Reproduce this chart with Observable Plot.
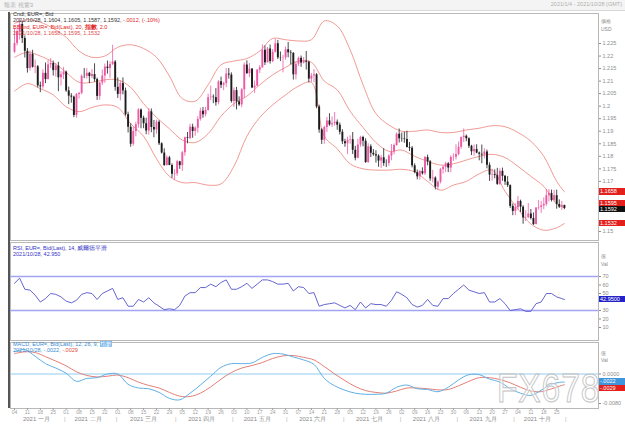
<!DOCTYPE html>
<html><head><meta charset="utf-8">
<script src="https://cdn.jsdelivr.net/npm/d3@7"></script>
<script src="https://cdn.jsdelivr.net/npm/@observablehq/plot@0.6"></script>
<style>
body{margin:0;background:#fff;}
#wrap{position:relative;width:625px;height:432px;overflow:hidden;font-family:"Liberation Sans",Arial,sans-serif;background:#fff;}
#wrap svg{position:absolute;left:0;}
.t{position:absolute;white-space:nowrap;line-height:1;font-size:5.5px;}
.box{position:absolute;left:599px;width:26px;height:6.5px;line-height:6.5px;font-size:5.5px;color:#fff;padding-left:1px;box-sizing:border-box;}
</style></head>
<body><div id="wrap"></div>
<script>
// ---------- DATA (EUR= daily, 2021/01/04 - 2021/10/28) ----------
const open = [
1.2215,1.2250,1.2297,1.2326,1.2270,1.2219,1.2150,1.2207,1.2155,1.2157,1.2081,1.2077,1.2131,1.2106,1.2165,1.2170,1.2142,1.2160,1.2113,1.2125,
1.2136,1.2061,1.2040,1.2036,1.1963,1.2047,1.2051,1.2119,1.2119,1.2131,1.2118,1.2126,1.2106,1.2039,1.2092,1.2120,1.2156,1.2150,1.2166,1.2176,
1.2075,1.2047,1.2090,1.2061,1.1966,1.1916,1.1848,1.1899,1.1926,1.1985,1.1952,1.1930,1.1901,1.1977,1.1915,1.1905,1.1936,1.1850,1.1813,1.1763,1.1794,1.1763,1.1728,
1.1730,1.1778,1.1763,1.1814,1.1874,1.1871,1.1916,1.1899,1.1912,1.1947,1.1980,1.1966,1.1983,1.2034,1.2036,1.2034,1.2014,1.2097,1.2083,1.2090,1.2128,1.2124,
1.2019,1.2062,1.2017,1.2005,1.2065,1.2164,1.2130,1.2148,1.2072,1.2080,1.2144,1.2153,1.2223,1.2173,1.2228,1.2178,1.2215,1.2249,1.2193,1.2192,1.2193,
1.2225,1.2213,1.2211,1.2125,1.2167,1.2191,1.2172,1.2179,1.2175,1.2108,1.2120,1.2125,1.1997,1.1905,1.1864,1.1915,1.1941,1.1925,1.1930,1.1936,1.1924,1.1896,
1.1858,1.1850,1.1864,1.1866,1.1824,1.1792,1.1845,1.1875,1.1860,1.1775,1.1838,1.1812,1.1806,1.1801,1.1781,1.1794,1.1771,1.1771,1.1801,1.1817,1.1843,1.1888,
1.1870,1.1869,1.1867,1.1835,1.1832,1.1762,1.1735,1.1718,1.1739,1.1730,1.1795,1.1778,1.1710,1.1713,1.1677,1.1697,1.1747,1.1756,1.1770,1.1753,1.1795,1.1796,
1.1807,1.1836,1.1875,1.1880,1.1870,1.1840,1.1818,1.1827,1.1813,1.1808,1.1805,1.1817,1.1764,1.1725,1.1727,1.1723,1.1688,1.1740,1.1720,1.1697,1.1683,1.1600,
1.1580,1.1595,1.1620,1.1597,1.1554,1.1555,1.1570,1.1552,1.1528,1.1594,1.1596,1.1602,1.1608,1.1643,1.1652,1.1624,1.1643,1.1608,1.1597,1.1604];
const high = [
1.2310,1.2305,1.2349,1.2338,1.2280,1.2230,1.2220,1.2223,1.2184,1.2162,1.2096,1.2145,1.2172,1.2182,1.2190,1.2180,1.2170,1.2175,1.2138,1.2155,
1.2140,1.2076,1.2050,1.2040,1.2050,1.2055,1.2125,1.2150,1.2150,1.2135,1.2146,1.2169,1.2112,1.2095,1.2144,1.2168,1.2180,1.2177,1.2243,1.2182,
1.2113,1.2100,1.2113,1.2072,1.1976,1.1930,1.1915,1.1936,1.1990,1.1989,1.1960,1.1952,1.1990,1.1989,1.1943,1.1944,1.1942,1.1854,1.1830,1.1802,1.1800,1.1770,1.1747,
1.1784,1.1780,1.1819,1.1877,1.1895,1.1928,1.1928,1.1918,1.1958,1.1992,1.1995,1.1995,1.2048,1.2080,1.2045,1.2070,1.2102,1.2116,1.2096,1.2150,1.2150,1.2133,
1.2073,1.2075,1.2037,1.2071,1.2172,1.2181,1.2170,1.2149,1.2100,1.2146,1.2162,1.2245,1.2240,1.2234,1.2244,1.2226,1.2266,1.2262,1.2216,1.2203,1.2236,
1.2254,1.2222,1.2213,1.2176,1.2196,1.2200,1.2194,1.2218,1.2180,1.2130,1.2146,1.2130,1.2004,1.1910,1.1920,1.1955,1.1970,1.1957,1.1975,1.1945,1.1933,1.1906,
1.1868,1.1876,1.1882,1.1895,1.1840,1.1868,1.1880,1.1880,1.1870,1.1850,1.1846,1.1827,1.1822,1.1806,1.1804,1.1830,1.1786,1.1806,1.1847,1.1849,1.1893,1.1909,
1.1893,1.1896,1.1900,1.1855,1.1839,1.1770,1.1745,1.1744,1.1754,1.1800,1.1805,1.1783,1.1744,1.1718,1.1702,1.1752,1.1763,1.1776,1.1775,1.1802,1.1810,1.1846,
1.1857,1.1877,1.1909,1.1885,1.1874,1.1844,1.1845,1.1846,1.1817,1.1845,1.1830,1.1825,1.1774,1.1748,1.1746,1.1752,1.1750,1.1753,1.1723,1.1719,1.1686,1.1610,
1.1610,1.1640,1.1625,1.1603,1.1583,1.1612,1.1588,1.1574,1.1595,1.1624,1.1620,1.1634,1.1668,1.1667,1.1665,1.1664,1.1665,1.1626,1.1620,1.1605];
const low = [
1.2210,1.2240,1.2264,1.2250,1.2192,1.2132,1.2140,1.2152,1.2130,1.2073,1.2054,1.2068,1.2090,1.2105,1.2150,1.2120,1.2116,1.2058,1.2080,1.2106,
1.2055,1.2006,1.2012,1.1954,1.1952,1.2028,1.2045,1.2110,1.2108,1.2090,1.2110,1.2096,1.2023,1.2024,1.2082,1.2091,1.2128,1.2111,1.2162,1.2060,
1.2031,1.2021,1.2045,1.1960,1.1893,1.1836,1.1840,1.1878,1.1912,1.1910,1.1910,1.1886,1.1884,1.1894,1.1874,1.1888,1.1843,1.1809,1.1760,1.1762,1.1763,1.1712,1.1704,
1.1720,1.1748,1.1740,1.1800,1.1850,1.1866,1.1872,1.1880,1.1892,1.1940,1.1952,1.1957,1.1980,1.2022,1.2010,1.2000,1.2005,1.2070,1.2062,1.2074,1.2108,1.2012,
1.1995,1.1985,1.1999,1.1994,1.2030,1.2126,1.2114,1.2070,1.2051,1.2078,1.2130,1.2151,1.2162,1.2172,1.2168,1.2173,1.2212,1.2186,1.2178,1.2133,1.2183,
1.2193,1.2165,1.2104,1.2105,1.2158,1.2155,1.2168,1.2144,1.2093,1.2095,1.2093,1.1990,1.1892,1.1847,1.1848,1.1895,1.1920,1.1915,1.1920,1.1904,1.1885,1.1847,
1.1836,1.1807,1.1848,1.1807,1.1782,1.1790,1.1836,1.1838,1.1772,1.1772,1.1795,1.1800,1.1773,1.1756,1.1752,1.1760,1.1755,1.1760,1.1782,1.1806,1.1840,1.1853,
1.1856,1.1852,1.1833,1.1819,1.1754,1.1730,1.1706,1.1705,1.1725,1.1723,1.1762,1.1700,1.1694,1.1666,1.1664,1.1690,1.1729,1.1735,1.1735,1.1734,1.1780,1.1785,
1.1802,1.1828,1.1855,1.1858,1.1831,1.1803,1.1800,1.1810,1.1782,1.1770,1.1790,1.1750,1.1700,1.1701,1.1710,1.1684,1.1684,1.1700,1.1684,1.1676,1.1592,1.1563,
1.1563,1.1585,1.1576,1.1529,1.1540,1.1551,1.1546,1.1524,1.1526,1.1585,1.1572,1.1587,1.1600,1.1618,1.1618,1.1619,1.1589,1.1592,1.1584,1.1587];
const close = [
1.2250,1.2297,1.2326,1.2270,1.2219,1.2150,1.2207,1.2155,1.2157,1.2081,1.2077,1.2131,1.2106,1.2165,1.2170,1.2142,1.2160,1.2113,1.2125,1.2136,
1.2061,1.2040,1.2036,1.1963,1.2047,1.2051,1.2119,1.2119,1.2131,1.2118,1.2126,1.2106,1.2039,1.2092,1.2120,1.2156,1.2150,1.2166,1.2176,1.2075,
1.2047,1.2090,1.2061,1.1966,1.1916,1.1848,1.1899,1.1926,1.1985,1.1952,1.1930,1.1901,1.1977,1.1915,1.1905,1.1936,1.1850,1.1813,1.1763,1.1794,1.1763,1.1728,1.1730,
1.1778,1.1763,1.1814,1.1874,1.1871,1.1916,1.1899,1.1912,1.1947,1.1980,1.1966,1.1983,1.2034,1.2036,1.2034,1.2014,1.2097,1.2083,1.2090,1.2128,1.2124,1.2019,
1.2062,1.2017,1.2005,1.2065,1.2164,1.2130,1.2148,1.2072,1.2080,1.2144,1.2153,1.2223,1.2173,1.2228,1.2178,1.2215,1.2249,1.2193,1.2192,1.2193,1.2225,
1.2213,1.2211,1.2125,1.2167,1.2191,1.2172,1.2179,1.2175,1.2108,1.2120,1.2125,1.1997,1.1905,1.1864,1.1915,1.1941,1.1925,1.1930,1.1936,1.1924,1.1896,1.1858,
1.1850,1.1864,1.1866,1.1824,1.1792,1.1845,1.1875,1.1860,1.1775,1.1838,1.1812,1.1806,1.1801,1.1781,1.1794,1.1771,1.1771,1.1801,1.1817,1.1843,1.1888,1.1870,
1.1869,1.1867,1.1835,1.1832,1.1762,1.1735,1.1718,1.1739,1.1730,1.1795,1.1778,1.1710,1.1713,1.1677,1.1697,1.1747,1.1756,1.1770,1.1753,1.1795,1.1796,1.1807,
1.1836,1.1875,1.1880,1.1870,1.1840,1.1818,1.1827,1.1813,1.1808,1.1805,1.1817,1.1764,1.1725,1.1727,1.1723,1.1688,1.1740,1.1720,1.1697,1.1683,1.1600,1.1580,
1.1595,1.1620,1.1597,1.1554,1.1555,1.1570,1.1552,1.1528,1.1594,1.1596,1.1602,1.1608,1.1643,1.1652,1.1624,1.1643,1.1608,1.1597,1.1604,1.1592];

// Bollinger bands (20, exponential, 2.0) read at every 5th bar
const bandIdx = [0,5,10,15,20,25,30,35,40,45,50,55,60,65,70,75,80,85,90,95,100,105,110,115,120,125,130,135,140,145,150,155,160,165,170,175,180,185,190,195,200,205,210,213];
const bandUpper = [1.2330,1.2345,1.2335,1.2310,1.2275,1.2220,1.2195,1.2200,1.2235,1.2245,1.2230,1.2195,1.2120,1.2030,1.2020,1.2085,1.2165,1.2180,1.2190,1.2220,1.2270,1.2265,1.2260,1.2265,1.2340,1.2320,1.2225,1.2085,1.1970,1.1925,1.1900,1.1900,1.1905,1.1895,1.1895,1.1905,1.1912,1.1922,1.1918,1.1895,1.1860,1.1800,1.1700,1.1658];
const bandMiddle = [1.2195,1.2215,1.2200,1.2175,1.2135,1.2095,1.2095,1.2105,1.2105,1.2075,1.2010,1.1955,1.1910,1.1865,1.1855,1.1890,1.1960,1.2010,1.2040,1.2085,1.2125,1.2155,1.2180,1.2175,1.2100,1.2065,1.1980,1.1915,1.1855,1.1820,1.1825,1.1800,1.1780,1.1765,1.1770,1.1785,1.1800,1.1808,1.1795,1.1760,1.1720,1.1680,1.1610,1.1595];
const bandLower = [1.2060,1.2090,1.2070,1.2045,1.1998,1.1978,1.1995,1.2005,1.1995,1.1930,1.1880,1.1790,1.1720,1.1695,1.1695,1.1685,1.1690,1.1760,1.1880,1.1955,1.2005,1.2045,1.2080,1.2095,1.1880,1.1830,1.1770,1.1750,1.1745,1.1745,1.1748,1.1738,1.1700,1.1665,1.1685,1.1700,1.1730,1.1745,1.1660,1.1590,1.1530,1.1505,1.1515,1.1532];

// RSI 14 (Wilder) read at every 2nd bar
const rsiIdx = [0,2,4,6,8,10,12,14,16,18,20,22,24,26,28,30,32,34,36,38,40,42,44,46,48,50,52,54,56,58,60,62,64,66,68,70,72,74,76,78,80,82,84,86,88,90,92,94,96,98,100,102,104,106,108,110,112,114,116,118,120,122,124,126,128,130,132,134,136,138,140,142,144,146,148,150,152,154,156,158,160,162,164,166,168,170,172,174,176,178,180,182,184,186,188,190,192,194,196,198,200,202,204,206,208,210,212,213];
const rsiValue = [62,68,55,54,48,40,44,50,49,46,41,39,42,49,51,50,43,50,53,56,43,45,35,35,43,40,45,39,35,31,32,31,36,47,51,51,57,57,61,58,63,66,55,55,58,62,56,61,66,66,64,61,61,62,53,58,57,50,51,35,37,38,39,36,33,36,31,40,33,38,37,37,35,42,52,49,45,37,34,36,43,36,35,44,44,50,55,60,54,52,50,51,40,40,44,38,30,31,32,29,29,38,40,50,50,46,44,42.95];
const rsiLevels = [30, 70];

// MACD 12,26,9 read at every 4th bar
const macdIdx = [0,4,8,12,16,20,24,28,32,36,40,44,48,52,56,60,64,68,72,76,80,84,88,92,96,100,104,108,112,116,120,124,128,132,136,140,144,148,152,156,160,164,168,172,176,180,184,188,192,196,200,204,208,212,213];
const macdValue = [0.0060,0.0066,0.0048,0.0028,0.0016,0.0002,-0.0020,-0.0012,-0.0010,0.0000,0.0000,-0.0028,-0.0038,-0.0040,-0.0050,-0.0066,-0.0070,-0.0052,-0.0030,-0.0006,0.0018,0.0028,0.0028,0.0030,0.0045,0.0055,0.0054,0.0046,0.0038,0.0026,-0.0012,-0.0032,-0.0044,-0.0052,-0.0055,-0.0055,-0.0052,-0.0036,-0.0030,-0.0040,-0.0042,-0.0048,-0.0036,-0.0016,-0.0002,-0.0002,-0.0014,-0.0022,-0.0040,-0.0052,-0.0058,-0.0044,-0.0028,-0.0022,-0.0022];
const signalValue = [0.0055,0.0060,0.0058,0.0047,0.0035,0.0022,0.0006,-0.0004,-0.0008,-0.0006,-0.0003,-0.0010,-0.0022,-0.0031,-0.0038,-0.0050,-0.0060,-0.0061,-0.0052,-0.0035,-0.0014,0.0004,0.0016,0.0023,0.0031,0.0042,0.0049,0.0050,0.0045,0.0038,0.0020,0.0000,-0.0018,-0.0034,-0.0045,-0.0050,-0.0052,-0.0046,-0.0038,-0.0038,-0.0040,-0.0043,-0.0042,-0.0032,-0.0020,-0.0010,-0.0010,-0.0015,-0.0024,-0.0036,-0.0046,-0.0048,-0.0040,-0.0031,-0.0029];

// axis ticks and labels
const priceTicks = [1.15,1.17,1.175,1.18,1.185,1.19,1.195,1.2,1.205,1.21,1.215,1.22,1.225];
const priceTickLabels = ["1.15","1.17","1.175","1.18","1.185","1.19","1.195","1.2","1.205","1.21","1.215","1.22","1.225"];
const rsiTicks = [10,20,30,50,60,70];
const macdTicks = [0,-0.008];
const macdTickLabels = ["0.0000","-0.0080"];
const weekTickIdx = [0,5,10,15,20,25,30,35,40,45,50,55,60,65,70,75,80,85,90,95,100,105,110,115,120,125,130,135,140,145,150,155,160,165,170,175,180,185,190,195,200,205,210];
const weekTickLabels = ["04","11","18","25","01","08","15","22","01","08","15","22","29","05","12","19","26","03","10","17","24","31","07","14","21","28","05","12","19","26","02","09","16","23","30","06","13","20","27","04","11","18","25"];
const monthNames = ["2021 一月","2021 二月","2021 三月","2021 四月","2021 五月","2021 六月","2021 七月","2021 八月","2021 九月","2021 十月"];
const monthMidIdx = [8.5,28.5,50,72.5,94,115.5,137.5,159.5,181.5,202.5];
const monthEndIdx = [19.5,39.5,62.5,84.5,105.5,127.5,149.5,171.5,193.5,213.5];

// last values shown in the legends / axis boxes
const lastBand = {upper:1.1658, middle:1.1595, lower:1.1532};
const lastClose = 1.1592;
const lastRsi = 42.95;
const lastMacd = -0.0022, lastSignal = -0.0029;

// ---------- CHART ----------
const xDomain = [-1.55, 226.2];
const upColor = "#ec5aa6", downColor = "#1c1c1c", bandColor = "#ee8f88";
const font = "Liberation Sans, Arial, sans-serif";
const candles = close.map((c, i) => ({i, o: open[i], h: high[i], l: low[i], c, col: c > open[i] ? upColor : downColor}));
const bands = bandIdx.map((i, k) => ({i, u: bandUpper[k], m: bandMiddle[k], l: bandLower[k]}));
const rsiData = rsiIdx.map((i, k) => ({i, v: rsiValue[k]}));
const macdData = macdIdx.map((i, k) => ({i, m: macdValue[k], s: signalValue[k]}));
const common = {width: 625, marginLeft: 10, marginRight: 27, style: {fontFamily: font, background: "transparent"}, color: {type: "identity"}};

const mainPlot = Plot.plot({
  ...common, height: 229, marginTop: 1, marginBottom: 1,
  x: {domain: xDomain, axis: null},
  y: {domain: [1.14641, 1.23697], axis: null},
  marks: [
    Plot.frame({stroke: "#b8b8b8"}),
    Plot.line(bands, {x: "i", y: "u", stroke: bandColor, strokeWidth: 0.9, curve: "catmull-rom"}),
    Plot.line(bands, {x: "i", y: "m", stroke: bandColor, strokeWidth: 0.9, curve: "catmull-rom"}),
    Plot.line(bands, {x: "i", y: "l", stroke: bandColor, strokeWidth: 0.9, curve: "catmull-rom"}),
    Plot.ruleX(candles, {x: "i", y1: "l", y2: "h", stroke: "col", strokeWidth: 0.8}),
    Plot.ruleX(candles, {x: "i", y1: "o", y2: "c", stroke: "col", strokeWidth: 1.9}),
    Plot.axisY(priceTicks, {anchor: "right", tickFormat: d => priceTickLabels[priceTicks.indexOf(d)], tickSize: 2, tickPadding: 2, fontSize: 5.5, color: "#8c8c8c", label: null})
  ]
});

const rsiPlot = Plot.plot({
  ...common, height: 100, marginTop: 1, marginBottom: 1,
  x: {domain: xDomain, axis: null},
  y: {domain: [-5.29, 110], axis: null},
  marks: [
    Plot.frame({stroke: "#b8b8b8"}),
    Plot.ruleY(rsiLevels, {stroke: "#a4a4f4", strokeWidth: 1.6}),
    Plot.line(rsiData, {x: "i", y: "v", stroke: "#5454cc", strokeWidth: 0.9}),
    Plot.axisY(rsiTicks, {anchor: "right", tickSize: 2, tickPadding: 2, fontSize: 5.5, color: "#8c8c8c", label: null})
  ]
});

const macdPlot = Plot.plot({
  ...common, height: 91, marginTop: 1, marginBottom: 24,
  x: {domain: xDomain, axis: null},
  y: {domain: [-0.009351, 0.008526], axis: null},
  marks: [
    Plot.frame({stroke: "#b8b8b8"}),
    Plot.ruleY([0], {stroke: "#92cdf0", strokeWidth: 1.2}),
    Plot.line(macdData, {x: "i", y: "s", stroke: "#e47f77", strokeWidth: 1, curve: "catmull-rom"}),
    Plot.line(macdData, {x: "i", y: "m", stroke: "#5fb0e6", strokeWidth: 1, curve: "catmull-rom"}),
    Plot.axisY(macdTicks, {anchor: "right", tickFormat: d => macdTickLabels[macdTicks.indexOf(d)], tickSize: 2, tickPadding: 2, fontSize: 5.5, color: "#8c8c8c", label: null}),
    Plot.axisX(weekTickIdx, {anchor: "bottom", tickFormat: d => weekTickLabels[weekTickIdx.indexOf(d)], tickSize: 2, tickPadding: 0, fontSize: 5, color: "#a0a0a0", label: null}),
    Plot.text(monthNames, {x: (d, k) => monthMidIdx[k], text: d => d, frameAnchor: "bottom", dy: 12, fontSize: 6, fill: "#8a8a8a"}),
    Plot.text(monthEndIdx, {x: d => d, text: () => "|", frameAnchor: "bottom", dy: 12, fontSize: 6, fill: "#b0b0b0"})
  ]
});

const wrap = document.getElementById("wrap");
function addSvg(svg, top) { svg.style.top = top + "px"; wrap.appendChild(svg); }
addSvg(mainPlot, 12);
addSvg(rsiPlot, 241);
addSvg(macdPlot, 341);

function addHtml(html, css) {
  const d = document.createElement("div");
  d.className = "t"; d.innerHTML = html; Object.assign(d.style, css); wrap.appendChild(d); return d;
}
// top strip
const strip = document.createElement("div");
Object.assign(strip.style, {position: "absolute", left: "0", top: "0", width: "625px", height: "10px", background: "#f4f4f4", borderBottom: "1px solid #d8d8d8"});
wrap.appendChild(strip);
addHtml("報表 視窗3", {left: "4px", top: "2px", color: "#b0b0b0", fontSize: "6px"});
addHtml("2021/1/4 - 2021/10/28 (GMT)", {right: "3px", top: "2px", color: "#b0b0b0", fontSize: "5.5px"});
// left dark border
const lb = document.createElement("div");
Object.assign(lb.style, {position: "absolute", left: "8px", top: "12px", width: "2px", height: "396px", background: "#555"});
wrap.appendChild(lb);

// main legend
addHtml("Cndl, EUR=, Bid", {left: "13px", top: "12.3px", color: "#333"});
addHtml("2021/10/28, 1.1604, 1.1605, 1.1587, 1.1592, <span style='color:#e02424'>-.0012, (-.10%)</span>", {left: "13px", top: "18.4px", color: "#333"});
addHtml("BBand, EUR=, Bid(Last), 20, <b>指數</b>, 2.0", {left: "13px", top: "25px", color: "#e02424"});
addHtml(`2021/10/28, ${lastBand.upper.toFixed(4)}, ${lastBand.middle.toFixed(4)}, ${lastBand.lower.toFixed(4)}`, {left: "13px", top: "31.2px", color: "#e04a4a"});
// rsi legend
addHtml("RSI, EUR=, Bid(Last), 14, 威爾德平滑", {left: "13px", top: "246.3px", color: "#3434c4"});
addHtml(`2021/10/28, ${lastRsi.toFixed(3)}`, {left: "13px", top: "252.4px", color: "#3434c4"});
// macd legend
addHtml("MACD, EUR=, Bid(Last), 12, 26, 9, <span style='background:#6aaee8;color:#fff'>指數</span>", {left: "13px", top: "342.4px", color: "#3a8ad2"});
addHtml(`2021/10/28, ${lastMacd.toFixed(4).replace("0.", ".")}, <span style='color:#e24a3c'>${lastSignal.toFixed(4).replace("0.", ".")}</span>`, {left: "13px", top: "348px", color: "#3a8ad2"});

// right axis headers
addHtml("價格", {left: "601px", top: "18.5px", color: "#8c8c8c", fontSize: "5px"});
addHtml("USD", {left: "601px", top: "26.5px", color: "#8c8c8c", fontSize: "5px"});
addHtml("值", {left: "601px", top: "253.5px", color: "#8c8c8c", fontSize: "5px"});
addHtml("Val", {left: "601px", top: "261.5px", color: "#8c8c8c", fontSize: "5px"});
addHtml("值", {left: "601px", top: "350.5px", color: "#8c8c8c", fontSize: "5px"});
addHtml("Val", {left: "601px", top: "357.5px", color: "#8c8c8c", fontSize: "5px"});

// value boxes on the right axis (positions from the plots' own scales)
function box(plot, top, v, text, bg, shift) {
  const y = top + plot.scale("y").apply(v) + shift - 3.25;
  const d = document.createElement("div");
  d.className = "box"; d.textContent = text; d.style.top = y + "px"; d.style.background = bg;
  wrap.appendChild(d);
}
box(mainPlot, 12, lastBand.upper, lastBand.upper.toFixed(4), "#e3201b", 0);
box(mainPlot, 12, lastBand.middle, lastBand.middle.toFixed(4), "#e3201b", -4);
box(mainPlot, 12, lastClose, lastClose.toFixed(4), "#111", 1.3);
box(mainPlot, 12, lastBand.lower, lastBand.lower.toFixed(4), "#e3201b", 0);
box(rsiPlot, 241, lastRsi, lastRsi.toFixed(4), "#2323c8", 0);
box(macdPlot, 341, lastMacd, lastMacd.toFixed(4).replace("0.", "."), "#3f95dc", 0);
box(macdPlot, 341, lastSignal, lastSignal.toFixed(4).replace("0.", "."), "#e3201b", 4);

// watermark
const wm = addHtml("FX678", {left: "497px", top: "368px", fontSize: "40px", color: "rgba(255,255,255,0.45)", webkitTextStroke: "1px #c2c2c2", transform: "scaleX(0.84)", transformOrigin: "left top", letterSpacing: "1px"});
</script>
</body></html>
